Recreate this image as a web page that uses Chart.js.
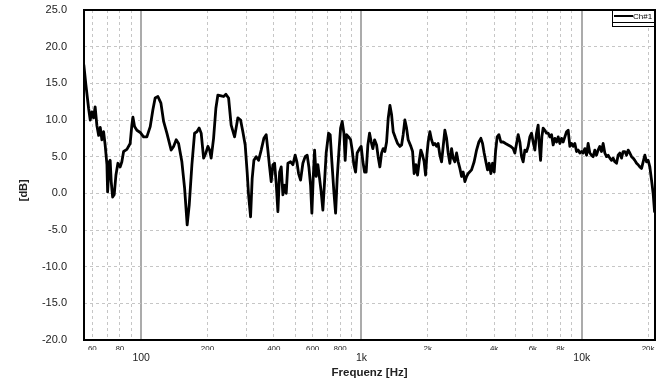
<!DOCTYPE html>
<html><head><meta charset="utf-8">
<script src="https://cdn.jsdelivr.net/npm/chart.js@4"></script>
<style>html,body{margin:0;padding:0;background:#fff;}#wrap{width:663px;height:381px;}</style>
</head><body><div id="wrap"><canvas id="c" width="663" height="381"></canvas></div>
<script>
const seriesName = 'Ch#1';
const freqHz = [54.9,56.1,57.7,58.7,59.7,60.8,61.8,62.9,64.1,65.2,66.3,67.5,68.6,69.9,70.4,71.6,72.3,73.1,74.2,75.4,76.8,78.4,80.3,81.7,83.2,86.1,89.1,90.7,91.7,93.3,95.6,99.0,102.5,106.1,109.9,113,115.7,119.1,122.9,126.4,130.8,136.8,140.3,144.2,147.8,153,157.4,161.7,165.2,169.9,174.7,179,183.3,187.2,192,196.6,200.8,204.4,207.8,213.1,218.3,222.9,230.7,236.6,242.4,249.3,256.1,265.4,274.7,282.6,289.4,296.5,302.7,307.2,313.7,319,324.8,332.7,341.1,350.5,360.5,369.3,375.9,382.7,389.2,396.1,403.2,410.1,417.4,424.9,432.1,439.8,447.7,455.3,463.4,476.6,488.2,500,509,518.1,529.1,542,555.1,566.9,577,587.4,595.4,603.6,612.5,622.7,633.9,645.4,656.2,667.9,679.9,691.4,709,721,733.9,749.5,762.9,775.6,789.7,803.8,817.3,832.1,843.3,855.7,873.8,892.4,907.3,923.7,940.2,956,980.2,996.8,1015,1033,1050,1069,1088,1107,1126,1147,1171,1190,1212,1234,1255,1277,1300,1322,1346,1370,1393,1428,1458,1494,1521,1546,1574,1602,1629,1676,1706,1734,1766,1797,1827,1860,1894,1925,1954,1981,2008,2044,2080,2116,2153,2192,2229,2269,2310,2349,2391,2434,2475,2519,2564,2608,2655,2702,2748,2797,2847,2895,2947,3000,3051,3160,3247,3330,3411,3483,3545,3605,3670,3736,3799,3867,3936,4003,4061,4130,4204,4293,4397,4509,4633,4766,4881,4969,5058,5143,5236,5330,5420,5517,5615,5711,5813,5916,6016,6124,6233,6339,6405,6500,6589,6679,6799,6920,7038,7164,7292,7416,7548,7683,7814,7953,8096,8231,8380,8530,8675,8830,8988,9138,9302,9468,9630,9802,9977,10144,10327,10512,10688,10879,11074,11260,11462,11667,11862,12075,12291,12503,12727,12955,13172,13410,13650,13878,14128,14384,14624,14887,15156,15409,15688,15969,16236,16527,16827,17108,17415,17730,18027,18350,18678,18995,19335,19682,20015,20370,20735,21086,21398];
const levelDb = [17.5,14.8,11.6,10.0,11.1,10.3,11.8,9.3,7.9,9.0,7.3,8.4,6.6,3.9,0.2,4.3,4.5,1.6,-0.5,-0.2,2.5,4.1,3.6,4.3,5.7,6.0,6.8,9.3,10.4,9.1,8.6,8.3,7.7,7.7,9.1,11.4,13.0,13.2,12.3,9.8,8.2,5.9,6.4,7.3,6.8,4.3,0.7,-4.3,-1.6,3.9,8.2,8.4,8.9,8.2,4.8,5.5,6.4,5.9,4.8,7.5,11.6,13.4,13.3,13.2,13.5,13.0,9.3,7.7,10.3,10.0,8.4,6.6,2.9,-0.2,-3.2,2.0,4.5,5.0,4.5,5.9,7.5,8.0,5.9,3.6,1.6,3.9,4.1,1.4,-2.5,2.9,3.6,-0.2,1.1,0.0,4.1,4.3,3.9,5.2,4.3,2.7,1.8,4.1,5.0,5.2,3.6,1.1,-2.7,2.0,5.9,2.3,3.9,2.0,0.2,-2.3,1.6,5.5,8.2,8.0,4.3,0.2,-2.7,2.0,5.7,8.9,9.8,8.2,4.5,8.0,7.7,7.3,5.9,3.9,2.9,5.5,6.1,6.4,4.3,2.9,2.9,6.6,8.2,7.0,6.1,7.3,6.6,5.0,3.6,5.5,6.1,5.7,7.0,10.2,12.0,10.7,8.4,7.5,6.8,6.4,6.6,8.0,10.0,8.9,7.3,6.4,5.7,2.7,3.9,2.5,4.3,5.9,5.2,4.3,2.5,5.2,7.0,8.4,7.3,6.6,6.8,6.4,6.8,5.2,4.3,6.4,8.6,7.5,5.5,4.1,6.1,4.8,4.3,5.5,4.3,3.4,2.3,2.9,1.6,2.3,2.7,3.2,4.3,5.9,7.0,7.5,6.8,5.5,4.3,3.2,4.1,2.7,4.1,2.9,5.7,7.7,8.0,7.0,7.0,6.8,6.6,6.4,6.1,5.5,6.8,8.0,7.0,5.0,4.3,5.9,5.7,6.4,7.7,8.2,7.0,5.9,8.2,9.3,6.8,4.5,7.7,8.9,8.6,8.2,8.2,7.7,8.0,6.6,7.5,7.0,7.7,6.8,7.5,7.0,7.7,8.4,8.6,6.4,6.8,6.4,6.8,5.7,5.9,5.5,5.7,5.5,6.1,5.2,6.8,5.5,5.2,5.0,5.9,5.2,5.9,6.4,5.7,6.8,5.5,5.0,5.2,4.8,4.5,4.8,4.3,4.1,5.2,5.5,4.8,5.7,5.7,5.2,5.9,5.5,5.0,4.8,4.5,4.1,3.9,3.6,3.4,4.3,5.2,4.3,4.5,3.6,1.8,0.0,-2.5];
const xGridTicks = [60,70,80,90,100,200,300,400,500,600,700,800,900,1000,2000,3000,4000,5000,6000,7000,8000,9000,10000,20000];
const xMinorLabels = {60:'60',80:'80',200:'200',400:'400',600:'600',800:'800',2000:'2k',4000:'4k',6000:'6k',8000:'8k',20000:'20k'};
const xMajorTicks = [100,1000,10000];
const xMajorLabels = ['100','1k','10k'];
const yTicks = [-20,-15,-10,-5,0,5,10,15,20,25];
const xTitle = 'Frequenz [Hz]';
const yTitle = '[dB]';

Chart.defaults.font.family = "'Liberation Sans', Arial, sans-serif";
const isDecade = v => v === 100 || v === 1000 || v === 10000;
const noPad = s => { s.paddingTop = 0; s.paddingBottom = 0; s.paddingLeft = 0; s.paddingRight = 0; };

const framePlugin = {
  id: 'frame',
  afterDraw(chart) {
    const c = chart.ctx, a = chart.chartArea;
    c.save();
    c.strokeStyle = '#000'; c.lineWidth = 2;
    c.strokeRect(a.left, a.top, a.right - a.left, a.bottom - a.top);
    const ds = chart.data.datasets[0];
    const w = 43, h = 17, x0 = a.right - w, y0 = a.top;
    c.fillStyle = '#fff'; c.fillRect(x0, y0, w, h);
    c.lineWidth = 1; c.strokeStyle = '#000';
    c.strokeRect(x0 + 0.5, y0 + 0.5, w - 1, h - 1);
    c.beginPath(); c.moveTo(x0, y0 + 12.5); c.lineTo(a.right, y0 + 12.5); c.stroke();
    c.lineWidth = 2; c.strokeStyle = ds.borderColor;
    c.beginPath(); c.moveTo(x0 + 2, y0 + 6); c.lineTo(x0 + 21, y0 + 6); c.stroke();
    c.fillStyle = '#000'; c.font = "8px 'Liberation Sans', Arial"; c.textBaseline = 'middle';
    c.fillText(ds.label, x0 + 21, y0 + 6.5);
    c.restore();
  }
};

new Chart(document.getElementById('c'), {
  type: 'line',
  data: { datasets: [{
    label: seriesName,
    data: freqHz.map((f, i) => ({ x: f, y: levelDb[i] })),
    borderColor: '#000', borderWidth: 2.8, pointRadius: 0, tension: 0, fill: false,
    borderJoinStyle: 'round', borderCapStyle: 'round',
    xAxisID: 'x', yAxisID: 'y'
  }]},
  options: {
    responsive: false, animation: false, devicePixelRatio: 1,
    layout: { padding: { top: 10, right: 8, left: 0, bottom: 0 } },
    plugins: { legend: { display: false }, tooltip: { enabled: false } },
    scales: {
      x: {
        type: 'logarithmic', position: 'bottom', min: 55, max: 21500,
        afterBuildTicks: s => { s.ticks = xGridTicks.map(v => ({ value: v })); },
        afterFit: s => { s.height = 10; noPad(s); },
        ticks: { autoSkip: false, maxRotation: 0, minRotation: 0, padding: 4, color: '#222',
                 font: { size: 8 }, callback: v => xMinorLabels[v] || '' },
        grid: { drawTicks: false,
                lineWidth: c => (c.tick && isDecade(c.tick.value)) ? 2 : 1,
                color: c => (c.tick && isDecade(c.tick.value)) ? '#ababab' : '#c6c6c6' },
        border: { display: false, dash: c => (c.tick && isDecade(c.tick.value)) ? [] : [3, 3] }
      },
      x2: {
        type: 'logarithmic', position: 'bottom', min: 55, max: 21500,
        afterBuildTicks: s => { s.ticks = xMajorTicks.map(v => ({ value: v })); },
        afterFit: s => { s.height = 31; noPad(s); },
        ticks: { autoSkip: false, maxRotation: 0, minRotation: 0, padding: 2, color: '#222',
                 font: { size: 10.5 }, callback: v => xMajorLabels[xMajorTicks.indexOf(v)] || '' },
        grid: { display: false, drawTicks: false },
        border: { display: false },
        title: { display: true, text: xTitle, color: '#222', font: { size: 11.5, weight: 'bold' },
                 padding: { top: 0, bottom: 1.6 } }
      },
      y: {
        min: -20, max: 25,
        afterBuildTicks: s => { s.ticks = yTicks.map(v => ({ value: v })); },
        afterFit: s => { s.width = 84; noPad(s); },
        ticks: { padding: 17, color: '#222', font: { size: 11 }, callback: v => Number(v).toFixed(1) },
        grid: { drawTicks: false, color: '#c6c6c6', lineWidth: 1 },
        border: { display: false, dash: [3, 3] },
        title: { display: true, text: yTitle + '          ', color: '#222', font: { size: 11, weight: 'bold' },
                 padding: { top: 17, bottom: 0 } }
      }
    }
  },
  plugins: [framePlugin]
});
</script></body></html>
